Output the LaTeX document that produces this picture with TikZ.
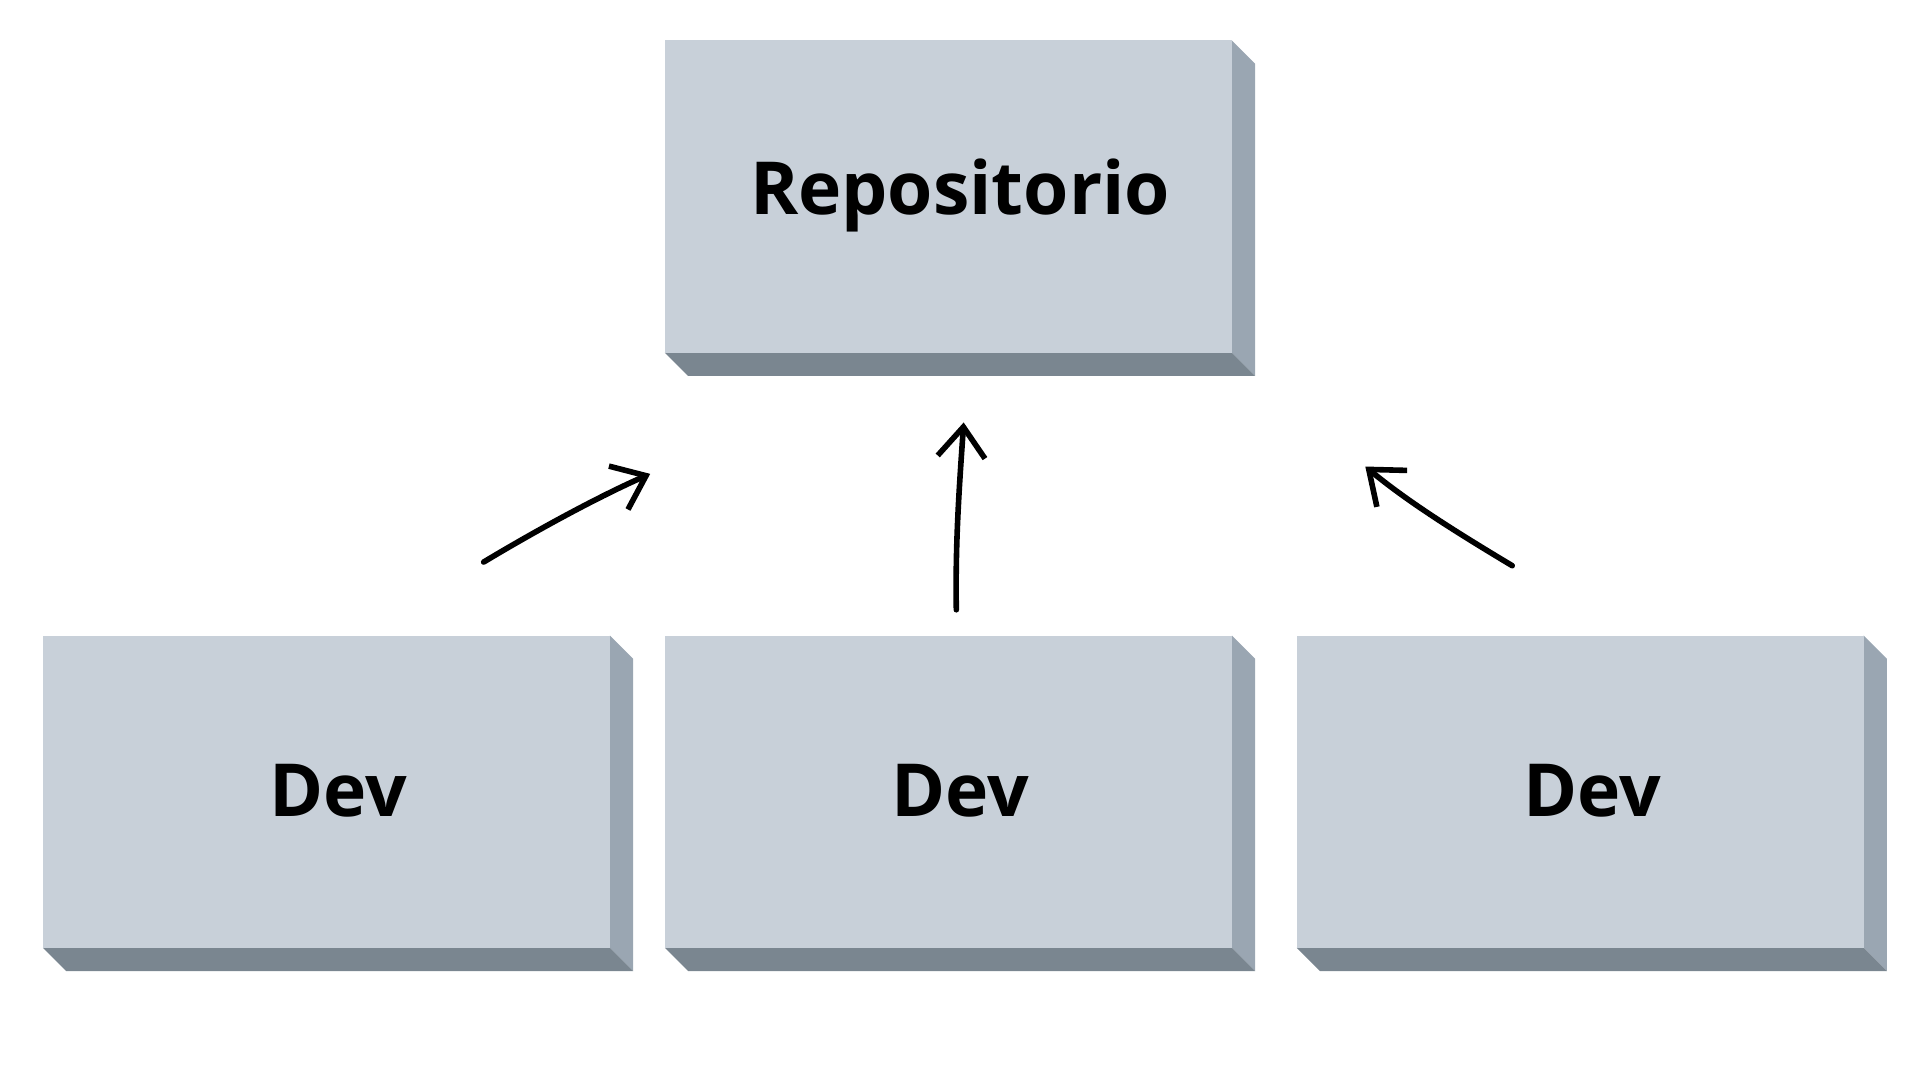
\documentclass[tikz,border=0pt]{standalone}
\usepackage{fontspec}
\setmainfont{Open Sans}
\usetikzlibrary{calc,arrows.meta}
\definecolor{boxfront}{HTML}{C8D0D9}
\definecolor{boxside}{HTML}{9AA6B2}
\definecolor{boxbottom}{HTML}{7A8690}
\tikzset{
  boxlabel/.style={font=\fontsize{17}{20}\selectfont\bfseries, text=black},
  sketch/.style={line width=1.3pt, line cap=round, -{Straight Barb[length=7pt,width=11pt]}}
}
% #1 left, #2 top, #3 name, #4 text
\newcommand{\slabbox}[4]{
  \fill[boxside] (#1+463,#2) -- (#1+482,#2+19) -- (#1+482,#2+274) -- (#1+463,#2+255) -- cycle;
  \fill[boxbottom] (#1,#2+255) -- (#1+463,#2+255) -- (#1+482,#2+274) -- (#1+19,#2+274) -- cycle;
  \fill[boxfront] (#1,#2) rectangle (#1+463,#2+255);
  \node[boxlabel] (#3) at (#1+241,#2+127) {#4};
}
\begin{document}
\begin{tikzpicture}[x=0.01cm,y=-0.01cm]
\useasboundingbox (0,0) rectangle (1568,882);

\slabbox{543}{33}{repo}{Repositorio}
\slabbox{35}{519}{devA}{Dev}
\slabbox{543}{519}{devB}{Dev}
\slabbox{1059}{519}{devC}{Dev}

\coordinate (a1) at (395,459);
\coordinate (a2) at (531,387);
\coordinate (b1) at (781,498);
\coordinate (b2) at (787,345);
\coordinate (c1) at (1235,462);
\coordinate (c2) at (1115,381);

\draw[sketch] (a1) .. controls (440,432) and (490,405) .. (a2);
\draw[sketch] (b1) .. controls (780,440) and (784,390) .. (b2);
\draw[sketch] (c1) .. controls (1190,435) and (1150,410) .. (c2);

\end{tikzpicture}
\end{document}
